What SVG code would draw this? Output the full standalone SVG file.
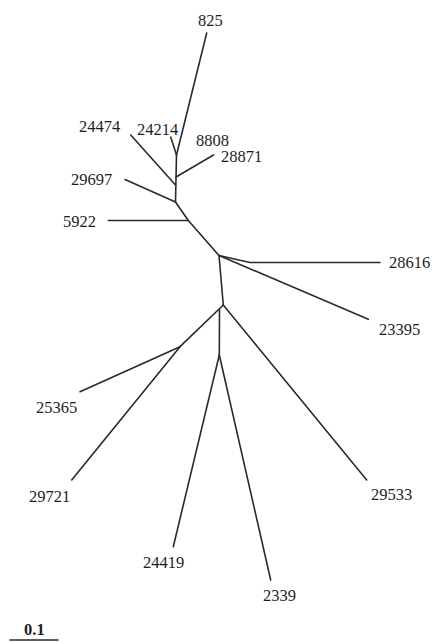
<svg xmlns="http://www.w3.org/2000/svg" width="436" height="642" viewBox="0 0 436 642">
<style>
.e{fill:none;stroke:#2a2a2a;stroke-width:1.6;stroke-linecap:round;stroke-linejoin:round}
.t{font-family:"Liberation Serif","Times New Roman",serif;font-size:16.5px;fill:#1e1e1e}
</style>
<rect width="436" height="642" fill="#fff"/>
<g id="connectors">
<line class="e" x1="206.7" y1="33" x2="176.5" y2="155"/>
<line class="e" x1="170.7" y1="137" x2="176.5" y2="155"/>
<line class="e" x1="176.5" y1="155" x2="175.5" y2="202"/>
<line class="e" x1="213.5" y1="155" x2="176" y2="177"/>
<line class="e" x1="130.7" y1="135" x2="175.5" y2="185"/>
<line class="e" x1="125" y1="179.5" x2="175.5" y2="202"/>
<line class="e" x1="175.5" y1="202" x2="188.3" y2="220.5"/>
<line class="e" x1="108.3" y1="220.5" x2="188.3" y2="220.5"/>
<line class="e" x1="188.3" y1="220.5" x2="219" y2="255.5"/>
<polyline class="e" points="219,255.5 250,262.5 380,262.5"/>
<line class="e" x1="219" y1="255.5" x2="368.3" y2="319.3"/>
<line class="e" x1="219" y1="255.5" x2="223.3" y2="305"/>
<line class="e" x1="223.3" y1="305" x2="366.7" y2="480"/>
<line class="e" x1="223.3" y1="305" x2="180" y2="346.7"/>
<line class="e" x1="180" y1="346.7" x2="80" y2="391.7"/>
<line class="e" x1="180" y1="346.7" x2="71.7" y2="480"/>
<line class="e" x1="219.5" y1="309.5" x2="219.3" y2="355"/>
<line class="e" x1="219.3" y1="355" x2="173.3" y2="546.7"/>
<line class="e" x1="219.3" y1="355" x2="270.7" y2="580"/>
<line class="e" x1="10" y1="640" x2="58" y2="640"/>
</g>
<g id="n825"><text class="t" x="198" y="26">825</text></g>
<g id="n24474"><text class="t" x="79" y="132">24474</text></g>
<g id="n24214"><text class="t" x="137" y="135">24214</text></g>
<g id="n8808"><text class="t" x="196" y="146">8808</text></g>
<g id="n28871"><text class="t" x="221" y="162">28871</text></g>
<g id="n29697"><text class="t" x="71" y="185">29697</text></g>
<g id="n5922"><text class="t" x="63" y="227">5922</text></g>
<g id="n28616"><text class="t" x="389" y="268">28616</text></g>
<g id="n23395"><text class="t" x="379" y="335">23395</text></g>
<g id="n25365"><text class="t" x="36" y="413">25365</text></g>
<g id="n29721"><text class="t" x="29" y="502">29721</text></g>
<g id="n29533"><text class="t" x="371" y="500">29533</text></g>
<g id="n24419"><text class="t" x="143" y="568">24419</text></g>
<g id="n2339"><text class="t" x="263" y="601">2339</text></g>
<g id="scale"><text class="t" x="24" y="635" font-weight="bold" font-size="14">0.1</text></g>
</svg>
